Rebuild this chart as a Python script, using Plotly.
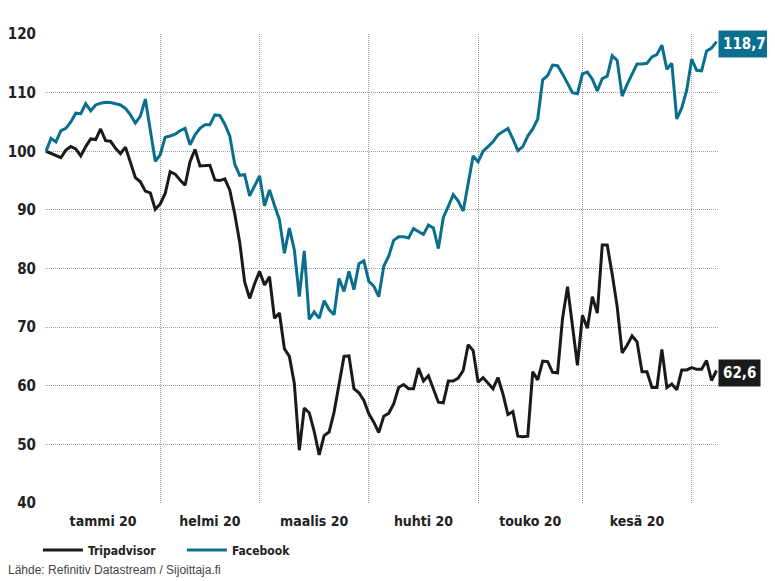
import plotly.graph_objects as go

# Trading-day index (business days from 1 Jan 2020)
tripadvisor = [
    100, 99.6, 99.3, 98.9, 100.2, 100.8, 100.4, 99.2, 100.8, 102.1,
    102, 103.8, 101.8, 101.7, 100.5, 99.6, 100.7, 98, 95.5, 94.8,
    93.2, 92.9, 90.1, 91, 92.8, 96.5, 96.1, 95.1, 94.2, 98.2,
    100.3, 97.5, 97.6, 97.6, 95.1, 95, 95.3, 93.4, 89.3, 84.5,
    77.7, 74.9, 77.4, 79.5, 77.2, 78.6, 71.5, 72.4, 66.3, 65,
    60.4, 49, 56.2, 55.4, 52.2, 48.2, 51.5, 52.1, 55.5, 60.3,
    65, 65.1, 59.5, 58.8, 57.5, 55.2, 53.8, 52, 54.8, 55.3,
    56.9, 59.7, 60.2, 59.5, 59.5, 63, 60.8, 61.7, 59.4, 57.2,
    57.1, 60.8, 60.8, 61.3, 62.6, 67, 66, 60.6, 61.4, 60.5,
    59.5, 61.4, 58.6, 55.1, 55.6, 51.4, 51.3, 51.4, 62.4, 61,
    64.2, 64.1, 62.3, 62.2, 71.5, 76.9, 70, 63.5, 72, 69.8,
    75.2, 72.4, 84, 84, 79, 73.5, 65.6, 66.9, 68.5, 67.5,
    62.4, 62.4, 59.7, 59.7, 66.2, 59.7, 60.3, 59.3, 62.7, 62.7,
    63.1, 62.8, 62.8, 64.3, 60.9, 62.6,
]
facebook = [
    100, 102.2, 101.6, 103.5, 103.9, 105, 106.5, 106.4, 108.1, 106.9,
    107.9, 108.2, 108.35, 108.3, 108.1, 107.9, 107.3, 106.2, 104.8, 106,
    108.9, 103.5, 98.3, 99.4, 102.4, 102.6, 102.9, 103.5, 103.9, 101.1,
    102.8, 103.9, 104.5, 104.5, 106.2, 106.1, 104.6, 102.6, 97.8, 95.9,
    96, 92.4, 94.1, 95.8, 90.7, 93.4, 90.8, 88.3, 82.6, 86.9,
    83.2, 75.2, 83, 71.3, 72.6, 71.5, 74.5, 73, 72.1, 78.3,
    76.1, 79.5, 76.4, 80.8, 81.3, 77.8, 77, 75.2, 80.4, 82.1,
    84.8, 85.4, 85.4, 85.2, 86.8, 86.3, 85.8, 87.4, 86.9, 83.4,
    88.7, 90.6, 92.6, 91.5, 89.8, 94.5, 99.2, 98.2, 100, 100.8,
    101.6, 102.8, 103.3, 103.9, 102.1, 100.1, 100.8, 102.6, 103.8, 105.5,
    112.2, 112.9, 114.7, 114.6, 113.2, 111.6, 110, 109.8, 113.2, 113.5,
    112.3, 110.3, 112.4, 112.8, 116.3, 115.5, 109.4, 111.4, 113.3, 114.9,
    114.9, 115, 116.1, 116.5, 118.1, 114, 115, 105.5, 107.4, 110.4,
    115.7, 113.8, 113.7, 117.1, 117.6, 118.7,
]
month_starts = [0, 23, 43, 65, 87, 108, 130]
month_labels = ["tammi 20", "helmi 20", "maalis 20", "huhti 20", "touko 20", "kesä 20"]
y_ticks = [40, 50, 60, 70, 80, 90, 100, 110, 120]

x = list(range(len(tripadvisor)))
month_mid = [(a + b) / 2 for a, b in zip(month_starts[:-1], month_starts[1:])]

BLACK = "#1a1a1a"
TEAL = "#0a6f8e"
FONT = "DejaVu Sans Condensed, DejaVu Sans"

fig = go.Figure()
fig.add_trace(go.Scatter(x=x, y=tripadvisor, mode="lines", name="Tripadvisor",
                         line=dict(color=BLACK, width=3)))
fig.add_trace(go.Scatter(x=x, y=facebook, mode="lines", name="Facebook",
                         line=dict(color=TEAL, width=3)))

def fmt(v):
    return f"{v:.1f}".replace(".", ",")

for series, col in ((facebook, TEAL), (tripadvisor, BLACK)):
    fig.add_annotation(x=x[-1], y=series[-1], text=fmt(series[-1]),
                       xanchor="left", yanchor="middle", showarrow=False,
                       xshift=1, yshift=-2, bgcolor=col, borderpad=4,
                       font=dict(family=FONT, size=15, color="white", weight="bold"))

fig.add_annotation(text="Lähde: Refinitiv Datastream / Sijoittaja.fi",
                   xref="paper", yref="paper", x=-0.058, y=-0.143,
                   xanchor="left", yanchor="middle", showarrow=False,
                   font=dict(family="Liberation Sans, Arial", size=12, color="#444"))

grid = "#a0a0a0"
fig.update_layout(
    width=767, height=573,
    margin=dict(l=37, r=57, t=26, b=78, autoexpand=False),
    paper_bgcolor="white", plot_bgcolor="white",
    showlegend=True,
    legend=dict(orientation="h", xref="container", x=0.039, y=-0.1,
                xanchor="left", yanchor="middle",
                font=dict(family=FONT, size=12, color="#222", weight="bold"),
                entrywidth=89, itemwidth=40),
    xaxis=dict(range=[-0.2, 135.3], tickmode="array", tickvals=month_mid,
               ticktext=month_labels, showgrid=False, zeroline=False, showline=False,
               ticks="", ticklabelstandoff=8,
               tickfont=dict(family=FONT, size=14, color="#222", weight="bold"),
               minor=dict(tickmode="array", tickvals=month_starts, showgrid=True,
                          gridcolor=grid, griddash="1px,1px", gridwidth=1, ticks="")),
    yaxis=dict(range=[40, 120], tickmode="array", tickvals=y_ticks,
               showgrid=True, gridcolor=grid, griddash="1px,1px", gridwidth=1,
               zeroline=False, showline=False, ticks="", ticklabelstandoff=8,
               tickfont=dict(family=FONT, size=15, color="#222", weight="bold")),
)

fig.write_html("out.html")
